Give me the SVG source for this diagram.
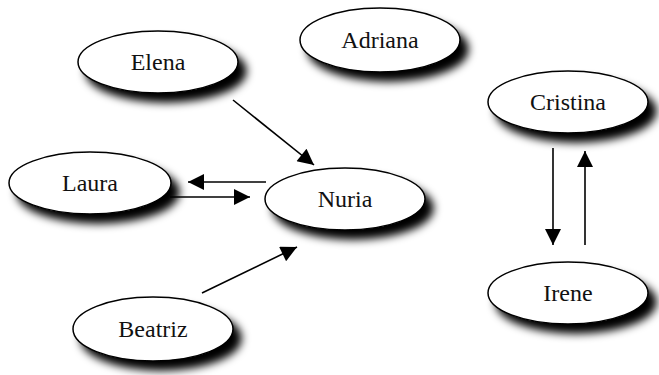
<svg xmlns="http://www.w3.org/2000/svg" width="659" height="375" viewBox="0 0 659 375">
  <style>
    .node ellipse { fill: #ffffff; stroke: #000000; stroke-width: 1.5; filter: url(#shadow); }
    .node text { font-family: "Liberation Serif", "Times New Roman", serif; font-size: 24px; fill: #111111; text-anchor: middle; }
    .edge { stroke: #000000; stroke-width: 1.6; fill: none; marker-end: url(#arrow); }
  </style>
  <defs>
    <filter id="shadow" x="-20%" y="-30%" width="150%" height="180%">
      <feDropShadow dx="8" dy="9" stdDeviation="4.5" flood-color="#000000" flood-opacity="1"/>
    </filter>
    <marker id="arrow" viewBox="0 0 10 10" refX="10" refY="5" markerWidth="20" markerHeight="16" markerUnits="userSpaceOnUse" orient="auto">
      <path d="M0,0 L10,5 L0,10 Z" fill="#000000"/>
    </marker>
  </defs>

  <rect width="659" height="375" fill="#ffffff"/>

  <g id="connectors">
    <line class="edge" x1="233" y1="100" x2="314" y2="165"/>
    <line class="edge" x1="266" y1="182" x2="188" y2="182"/>
    <line class="edge" x1="170" y1="197" x2="250" y2="197"/>
    <line class="edge" x1="202" y1="293" x2="297" y2="247"/>
    <line class="edge" x1="553" y1="148" x2="553" y2="245"/>
    <line class="edge" x1="585" y1="245" x2="585" y2="151"/>
  </g>

  <g id="node-elena" class="node">
    <ellipse cx="158" cy="62" rx="80" ry="31"/>
    <text x="158" y="70">Elena</text>
  </g>
  <g id="node-adriana" class="node">
    <ellipse cx="380" cy="40" rx="80" ry="32"/>
    <text x="380" y="48">Adriana</text>
  </g>
  <g id="node-laura" class="node">
    <ellipse cx="90" cy="183" rx="81" ry="31"/>
    <text x="90" y="191">Laura</text>
  </g>
  <g id="node-nuria" class="node">
    <ellipse cx="345" cy="199" rx="80" ry="31"/>
    <text x="345" y="207">Nuria</text>
  </g>
  <g id="node-beatriz" class="node">
    <ellipse cx="153" cy="329" rx="80" ry="32"/>
    <text x="153" y="337">Beatriz</text>
  </g>
  <g id="node-cristina" class="node">
    <ellipse cx="568" cy="102" rx="80" ry="31"/>
    <text x="568" y="110">Cristina</text>
  </g>
  <g id="node-irene" class="node">
    <ellipse cx="568" cy="293" rx="80" ry="31"/>
    <text x="568" y="301">Irene</text>
  </g>
</svg>
